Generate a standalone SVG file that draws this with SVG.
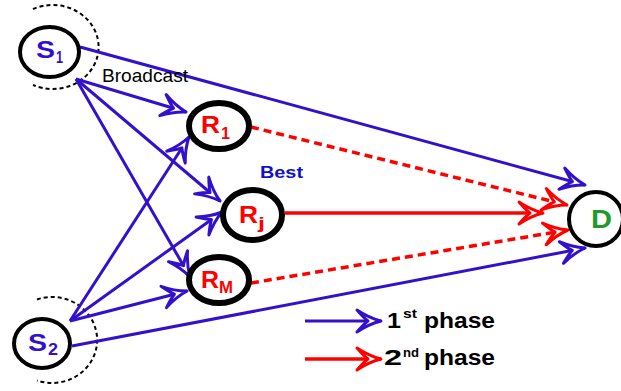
<svg xmlns="http://www.w3.org/2000/svg" width="621" height="391" viewBox="0 0 621 391">
<style>
.bl{stroke:#3311CC;stroke-width:3;fill:none;marker-end:url(#ab)}
.rd{stroke:#FF0000;stroke-width:3.5;fill:none;marker-end:url(#ar)}
.dash{stroke-dasharray:8 5}
.ring{fill:none;stroke:#000;stroke-dasharray:4 3;stroke-width:2}
.nd{fill:#fff;stroke:#000;stroke-width:4}
.rn{fill:#fff;stroke:#000;stroke-width:6}
.lab{font-family:"Liberation Sans",Arial,sans-serif;font-weight:bold}
.s{fill:#3311CC}
.r{fill:#FF0000}
</style>
<defs>
<marker id="ab" markerUnits="userSpaceOnUse" viewBox="-30 -20 40 40" refX="0" refY="0" markerWidth="40" markerHeight="40" orient="auto" overflow="visible">
<path d="M0,0 Q-12,-3 -24,-11 Q-17,-3 -13,0 Q-17,3 -24,11 Q-12,3 0,0 Z" fill="#fff" stroke="#3311CC" stroke-width="3" stroke-linejoin="round"/>
</marker>
<marker id="ar" markerUnits="userSpaceOnUse" viewBox="-30 -20 40 40" refX="0" refY="0" markerWidth="40" markerHeight="40" orient="auto" overflow="visible">
<path d="M0,0 Q-12,-3 -24,-11 Q-17,-3 -13,0 Q-17,3 -24,11 Q-12,3 0,0 Z" fill="#fff" stroke="#FF0000" stroke-width="3" stroke-linejoin="round"/>
</marker>
</defs>
<g id="rings">
<path class="ring" d="M33,9 A46 42 0 1 1 33,85"/>
<path class="ring" d="M37,299.5 A45 43 0 1 1 37,380.5"/>
</g>
<g id="connectors">
<line class="bl" x1="80" y1="47" x2="585" y2="185"/>
<line class="bl" x1="76" y1="79" x2="186" y2="112"/>
<line class="bl" x1="76" y1="79" x2="220" y2="201"/>
<line class="bl" x1="76" y1="79" x2="190" y2="277"/>
<line class="bl" x1="70" y1="321" x2="189" y2="137"/>
<line class="bl" x1="70" y1="321" x2="222" y2="212"/>
<line class="bl" x1="70" y1="321" x2="187" y2="291"/>
<line class="bl" x1="72" y1="346" x2="585" y2="248"/>
<line class="rd dash" x1="251" y1="127" x2="567" y2="205"/>
<line class="rd" x1="285" y1="213" x2="543" y2="213"/>
<line class="rd dash" x1="251" y1="283" x2="568" y2="230"/>
</g>
<g id="S1">
<ellipse class="nd" cx="49.5" cy="52" rx="29.5" ry="25"/>
<text class="lab s" x="36" y="58" font-size="24" textLength="19" lengthAdjust="spacingAndGlyphs">S</text>
<text class="lab s" x="56" y="63" font-size="16" textLength="7" lengthAdjust="spacingAndGlyphs">1</text>
</g>
<g id="S2">
<ellipse class="nd" cx="42" cy="343.5" rx="28" ry="24.5"/>
<text class="lab s" x="28" y="351" font-size="24" textLength="19" lengthAdjust="spacingAndGlyphs">S</text>
<text class="lab s" x="48" y="355" font-size="16" textLength="10" lengthAdjust="spacingAndGlyphs">2</text>
</g>
<g id="R1">
<ellipse class="rn" cx="219" cy="126" rx="30" ry="23"/>
<text class="lab r" x="201" y="133" font-size="23" textLength="19" lengthAdjust="spacingAndGlyphs">R</text>
<text class="lab r" x="221" y="139" font-size="16" textLength="9" lengthAdjust="spacingAndGlyphs">1</text>
</g>
<g id="Rj">
<ellipse class="rn" cx="252.5" cy="215" rx="29.5" ry="25"/>
<text class="lab r" x="239" y="223" font-size="23" textLength="19" lengthAdjust="spacingAndGlyphs">R</text>
<text class="lab r" x="258" y="229" font-size="17" textLength="7" lengthAdjust="spacingAndGlyphs">j</text>
</g>
<g id="RM">
<ellipse class="rn" cx="219" cy="280" rx="30" ry="23"/>
<text class="lab r" x="201" y="288" font-size="23" textLength="18" lengthAdjust="spacingAndGlyphs">R</text>
<text class="lab r" x="219" y="293" font-size="17" textLength="14" lengthAdjust="spacingAndGlyphs">M</text>
</g>
<g id="D">
<ellipse class="nd" cx="596" cy="219" rx="27" ry="27"/>
<text class="lab" x="591" y="228" font-size="25" fill="#1E9A2E" textLength="21" lengthAdjust="spacingAndGlyphs">D</text>
</g>
<g id="labels">
<text x="102" y="82" font-family="Liberation Sans, Arial, sans-serif" font-size="19" fill="#000" textLength="86" lengthAdjust="spacingAndGlyphs">Broadcast</text>
<text class="lab" x="260" y="178" font-size="17" fill="#1010CC" textLength="43" lengthAdjust="spacingAndGlyphs">Best</text>
</g>
<g id="legend">
<line class="bl" x1="305" y1="321" x2="381" y2="321"/>
<line class="rd" x1="305" y1="359" x2="381" y2="359"/>
<text class="lab" x="387" y="328" font-size="22" fill="#000" textLength="14" lengthAdjust="spacingAndGlyphs">1</text>
<text class="lab" x="403" y="318" font-size="13" fill="#000" textLength="14" lengthAdjust="spacingAndGlyphs">st</text>
<text class="lab" x="424" y="328" font-size="22" fill="#000" textLength="71" lengthAdjust="spacingAndGlyphs">phase</text>
<text class="lab" x="384" y="365" font-size="22" fill="#000" textLength="18" lengthAdjust="spacingAndGlyphs">2</text>
<text class="lab" x="403" y="357" font-size="13" fill="#000" textLength="16" lengthAdjust="spacingAndGlyphs">nd</text>
<text class="lab" x="424" y="365" font-size="22" fill="#000" textLength="71" lengthAdjust="spacingAndGlyphs">phase</text>
</g>
</svg>
